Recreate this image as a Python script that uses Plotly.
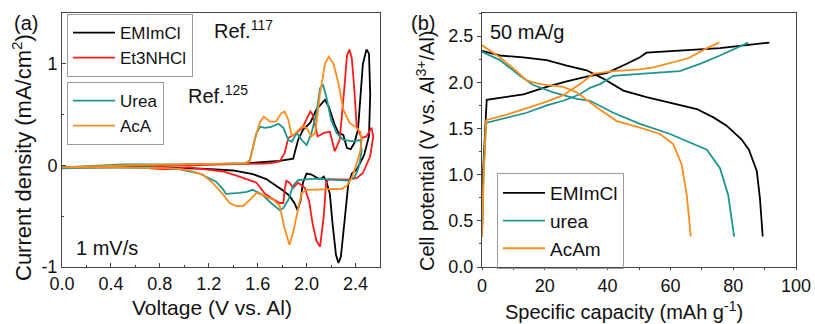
import plotly.graph_objects as go

# ---------------- Panel (a): cyclic voltammograms ----------------
emim_v = [0.0, 0.4, 0.8, 1.2, 1.5, 1.78, 1.89, 1.93, 1.97, 2.03, 2.08, 2.15, 2.18, 2.23, 2.26, 2.30, 2.33, 2.36,
          2.39, 2.42, 2.44, 2.46, 2.49, 2.51, 2.52, 2.51, 2.47, 2.44, 2.41, 2.37, 2.34, 2.31, 2.28, 2.26, 2.24,
          2.21, 2.19, 2.16, 2.14, 2.12, 2.095, 2.04, 2.0, 1.97, 1.95, 1.925, 1.90, 1.86, 1.81, 1.75, 1.67, 1.56,
          1.40, 1.18, 0.91, 0.5, 0.0]
emim_i = [-0.02, -0.01, 0.0, 0.01, 0.02, 0.045, 0.066, 0.25, 0.35, 0.42, 0.55, 0.645, 0.58, 0.40, 0.32, 0.30, 0.17, 0.16,
          0.22, 0.35, 0.70, 1.0, 1.14, 1.10, 0.70, 0.29, 0.10, 0.03, -0.04, -0.08, -0.19, -0.55, -0.90, -0.96, -0.88,
          -0.55, -0.28, -0.15, -0.11, -0.13, -0.13, -0.09, -0.08, -0.17, -0.35, -0.44, -0.37, -0.30, -0.25, -0.20,
          -0.135, -0.085, -0.05, -0.035, -0.025, -0.02, -0.02]

et3_v = [0.72, 1.0, 1.4, 1.7, 1.78, 1.82, 1.85, 1.92, 1.97, 2.03, 2.05, 2.09, 2.14, 2.19, 2.23, 2.27, 2.31, 2.33,
         2.35, 2.37, 2.39, 2.41, 2.45, 2.49, 2.53, 2.545, 2.52, 2.46, 2.41, 2.33, 2.18, 2.16, 2.14, 2.11, 2.08,
         2.05, 2.02, 1.985, 1.93, 1.89, 1.86, 1.835, 1.82, 1.81, 1.78, 1.75, 1.71, 1.66, 1.59, 1.45, 1.32, 1.04,
         0.85, 0.72]
et3_i = [-0.01, 0.0, 0.01, 0.02, 0.04, 0.12, 0.27, 0.32, 0.38, 0.53, 0.50, 0.285, 0.32, 0.33, 0.14, 0.25, 0.78, 1.08,
         1.14, 1.05, 0.75, 0.38, 0.27, 0.285, 0.37, 0.285, 0.09, -0.075, -0.125, -0.14, -0.135, -0.17, -0.50, -0.80,
         -0.74, -0.58, -0.35, -0.22, -0.17, -0.22, -0.17, -0.15, -0.24, -0.37, -0.37, -0.35, -0.32, -0.28, -0.17,
         -0.11, -0.06, -0.02, -0.04, -0.03]

urea_v = [0.0, 0.5, 1.0, 1.5, 1.535, 1.59, 1.62, 1.66, 1.71, 1.77, 1.81, 1.85, 1.88, 1.92, 1.96, 2.0, 2.04, 2.08,
          2.11, 2.135, 2.16, 2.20, 2.245, 2.30, 2.38, 2.44, 2.45, 2.43, 2.41, 2.39, 2.34, 2.07, 1.93, 1.89, 1.85,
          1.81, 1.78, 1.74, 1.70, 1.64, 1.56, 1.51, 1.45, 1.34, 1.32, 1.26, 1.125, 0.96, 0.77, 0.4, 0.0]
urea_i = [-0.02, 0.01, 0.01, 0.02, 0.05, 0.32, 0.38, 0.37, 0.38, 0.41, 0.37, 0.25, 0.235, 0.32, 0.25, 0.20, 0.32, 0.51,
          0.76, 0.79, 0.68, 0.45, 0.32, 0.25, 0.236, 0.25, 0.15, 0.0, -0.07, -0.12, -0.15, -0.13, -0.145, -0.20,
          -0.34, -0.42, -0.44, -0.40, -0.36, -0.29, -0.24, -0.26, -0.27, -0.28, -0.24, -0.16, -0.08, -0.04, -0.02,
          -0.02, -0.03]

aca_v = [0.0, 0.5, 1.0, 1.5, 1.535, 1.575, 1.62, 1.65, 1.70, 1.75, 1.79, 1.82, 1.85, 1.88, 1.92, 1.96, 2.0, 2.04,
         2.07, 2.11, 2.15, 2.18, 2.22, 2.26, 2.30, 2.35, 2.41, 2.44, 2.45, 2.44, 2.41, 2.37, 2.33, 2.29, 2.01, 1.96,
         1.93, 1.89, 1.86, 1.82, 1.78, 1.73, 1.64, 1.59, 1.535, 1.48, 1.425, 1.37, 1.32, 1.23, 1.15, 1.04, 0.91,
         0.5, 0.0]
aca_i = [-0.02, 0.0, 0.01, 0.02, 0.04, 0.25, 0.43, 0.48, 0.43, 0.43, 0.51, 0.53, 0.45, 0.285, 0.33, 0.38, 0.37, 0.285,
         0.32, 0.71, 1.0, 1.07, 1.0, 0.81, 0.55, 0.42, 0.37, 0.33, 0.25, 0.15, 0.02, -0.12, -0.20, -0.23, -0.24,
         -0.27, -0.43, -0.66, -0.78, -0.62, -0.40, -0.34, -0.29, -0.27, -0.34, -0.40, -0.40, -0.37, -0.29, -0.17,
         -0.09, -0.05, -0.03, -0.02, -0.02]

# ---------------- Panel (b): charge / discharge ----------------
emim_cap = [0.0, 0.3, 1.5, 5.7, 13.2, 20.6, 27.0, 33.3, 39.7, 46.1, 50.3, 52.4, 65.2, 75.8, 91.5, None,
            0.0, 5.7, 13.1, 20.6, 27.0, 33.3, 38.6, 45.0, 52.4, 60.9, 68.4, 73.7, 77.9, 82.7, 85.0, 87.5, 88.5, 89.4]
emim_pot = [0.33, 1.0, 1.81, 1.83, 1.87, 1.95, 2.01, 2.06, 2.10, 2.20, 2.27, 2.32, 2.35, 2.37, 2.43, None,
            2.34, 2.29, 2.27, 2.24, 2.18, 2.13, 2.04, 1.91, 1.84, 1.77, 1.71, 1.62, 1.53, 1.38, 1.27, 1.04, 0.75, 0.33]

urea_cap = [0.0, 0.5, 1.3, 7.9, 14.2, 20.6, 25.9, 31.2, 34.4, 37.6, 41.8, 50.3, 54.6, 63.0, 69.4, 75.8, 84.8, None,
            0.0, 5.7, 12.1, 16.3, 22.7, 30.2, 34.4, 41.8, 50.3, 59.9, 71.6, 75.8, 78.4, 80.3]
urea_pot = [0.33, 1.0, 1.56, 1.62, 1.67, 1.75, 1.80, 1.87, 1.94, 1.98, 2.07, 2.09, 2.10, 2.12, 2.20, 2.29, 2.43, None,
            2.33, 2.24, 2.07, 1.97, 1.89, 1.82, 1.80, 1.67, 1.55, 1.44, 1.27, 1.07, 0.78, 0.33]

acam_cap = [0.0, 0.5, 1.3, 7.9, 15.3, 20.6, 25.9, 31.2, 35.4, 41.8, 50.3, 54.6, 65.7, 71.6, 75.6, None,
            0.0, 5.7, 10.0, 14.2, 18.5, 25.9, 30.2, 36.5, 42.9, 50.3, 56.7, 60.9, 63.6, 65.2, 66.5]
acam_pot = [0.33, 1.0, 1.59, 1.65, 1.73, 1.79, 1.86, 1.98, 2.09, 2.12, 2.14, 2.16, 2.26, 2.37, 2.43, None,
            2.40, 2.27, 2.15, 2.02, 1.98, 1.95, 1.89, 1.73, 1.58, 1.51, 1.44, 1.33, 1.11, 0.78, 0.33]

cv_y_ticks = [-1, 0, 1]
cv_y_text = ["-1", "0", "1"]

BLACK = "#000000"
RED = "#ff1a1a"
TEAL = "#1c958f"
ORANGE = "#ff8c1a"
FONT = "Liberation Sans, Arial, sans-serif"
LW = 1.8

fig = go.Figure()
fig.add_trace(go.Scatter(x=emim_v, y=emim_i, mode="lines", name="EMImCl", line=dict(color=BLACK, width=LW),
                         xaxis="x", yaxis="y", legend="legend"))
fig.add_trace(go.Scatter(x=et3_v, y=et3_i, mode="lines", name="Et3NHCl", line=dict(color=RED, width=LW),
                         xaxis="x", yaxis="y", legend="legend"))
fig.add_trace(go.Scatter(x=urea_v, y=urea_i, mode="lines", name="Urea", line=dict(color=TEAL, width=LW),
                         xaxis="x", yaxis="y", legend="legend2"))
fig.add_trace(go.Scatter(x=aca_v, y=aca_i, mode="lines", name="AcA", line=dict(color=ORANGE, width=LW),
                         xaxis="x", yaxis="y", legend="legend2"))

fig.add_trace(go.Scatter(x=emim_cap, y=emim_pot, mode="lines", name="EMImCl", line=dict(color=BLACK, width=LW),
                         xaxis="x2", yaxis="y2", legend="legend3"))
fig.add_trace(go.Scatter(x=urea_cap, y=urea_pot, mode="lines", name="urea", line=dict(color=TEAL, width=LW),
                         xaxis="x2", yaxis="y2", legend="legend3"))
fig.add_trace(go.Scatter(x=acam_cap, y=acam_pot, mode="lines", name="AcAm", line=dict(color=ORANGE, width=LW),
                         xaxis="x2", yaxis="y2", legend="legend3"))

W, H = 815, 324
ydom = [1 - 267 / H, 1 - 13 / H]

def axis_style(ticks, ticklen):
    return dict(showline=True, mirror=True, linecolor="#444", linewidth=1, ticks=ticks, ticklen=ticklen,
                tickcolor="#444", showgrid=False, zeroline=False, automargin=False,
                tickfont=dict(size=18, color="#111", family=FONT))

legend_common = dict(bgcolor="rgba(255,255,255,0)", bordercolor="#9a9a9a", borderwidth=1,
                     xanchor="left", yanchor="top", tracegroupgap=0, itemclick=False, itemwidth=42)

fig.update_layout(
    width=W, height=H,
    margin=dict(l=0, r=0, t=0, b=0),
    paper_bgcolor="white", plot_bgcolor="white",
    font=dict(family=FONT, color="#111"),
    xaxis=dict(domain=[62 / W, 380 / W], range=[0, 2.6], dtick=0.4, tick0=0, tickformat=".1f",
               minor=dict(ticks="inside", ticklen=2, dtick=0.2, tickcolor="#444"),
               anchor="y", **axis_style("inside", 4)),
    yaxis=dict(domain=ydom, range=[-1, 1.5], tickvals=cv_y_ticks, ticktext=cv_y_text,
               minor=dict(ticks="inside", ticklen=2, dtick=0.5, tickcolor="#444"),
               anchor="x", **axis_style("inside", 4)),
    xaxis2=dict(domain=[482 / W, 796 / W], range=[0, 100], dtick=20, tick0=0,
                minor=dict(ticks="outside", ticklen=2, dtick=10, tickcolor="#444"),
                anchor="y2", **axis_style("outside", 2)),
    yaxis2=dict(domain=ydom, range=[0, 2.75], dtick=0.5, tick0=0, tickformat=".1f",
                minor=dict(ticks="outside", ticklen=2, dtick=0.25, tickcolor="#444"),
                anchor="x2", **axis_style("outside", 4)),
    legend=dict(x=67 / W, y=1 - 14 / H, font=dict(size=17, color="#111", family=FONT), **legend_common),
    legend2=dict(x=67 / W, y=1 - 82 / H, font=dict(size=17, color="#111", family=FONT), **legend_common),
    legend3=dict(x=497 / W, y=1 - 173 / H, font=dict(size=19, color="#111", family=FONT), **legend_common),
    showlegend=True,
)

ann_font = dict(size=20, color="#111", family=FONT)
annotations = [
    dict(text="(a)", x=12 / W, y=1 - 23 / H),
    dict(text="Ref.<sup>117</sup>", x=212 / W, y=1 - 30 / H),
    dict(text="Ref.<sup>125</sup>", x=186 / W, y=1 - 95 / H),
    dict(text="1 mV/s", x=74 / W, y=1 - 248 / H),
    dict(text="(b)", x=409 / W, y=1 - 23 / H),
    dict(text="50 mA/g", x=488 / W, y=1 - 32 / H),
]
for a in annotations:
    fig.add_annotation(xref="paper", yref="paper", xanchor="left", yanchor="middle", showarrow=False,
                       font=ann_font, **a)

# axis titles, placed where the reference puts them
axis_titles = [
    dict(text="Voltage (V vs. Al)", x=212 / W, y=1 - 307 / H, textangle=0, size=21),
    dict(text="Specific capacity (mAh g<sup>-1</sup>)", x=624 / W, y=1 - 310 / H, textangle=0, size=20),
    dict(text="Current density (mA/cm<sup>2</sup>)", x=22 / W, y=1 - 158 / H, textangle=-90, size=22),
    dict(text="Cell potential (V vs. Al<sup>3+</sup>/Al)", x=425 / W, y=1 - 151 / H, textangle=-90, size=20),
]
for t in axis_titles:
    fig.add_annotation(text=t["text"], xref="paper", yref="paper", x=t["x"], y=t["y"],
                       xanchor="center", yanchor="middle", textangle=t["textangle"], showarrow=False,
                       font=dict(size=t["size"], color="#111", family=FONT))

fig.write_html("out.html", config={"displayModeBar": False},
               post_script="document.body.style.margin='0';document.body.style.padding='0';")
